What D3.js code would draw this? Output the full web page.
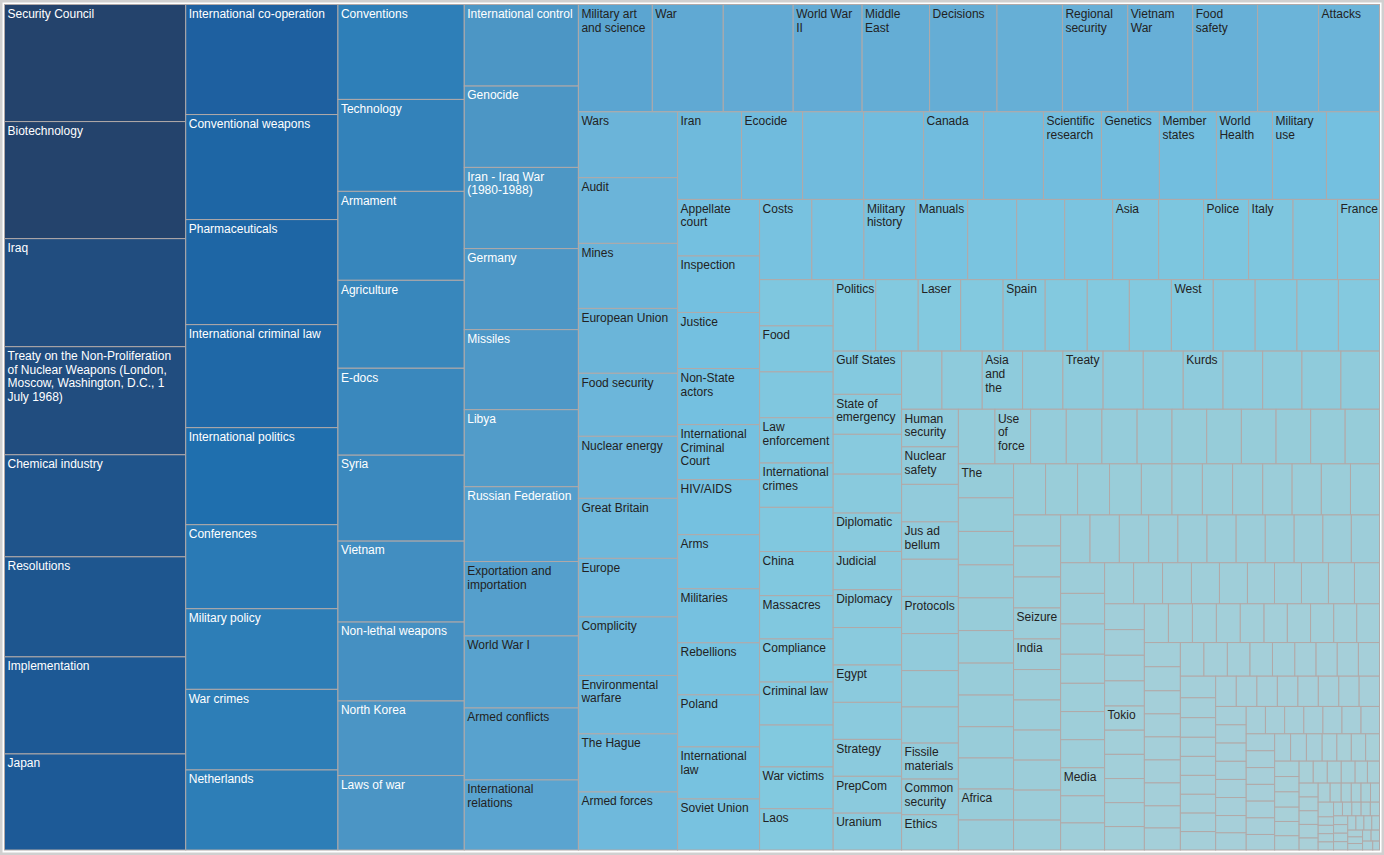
<!DOCTYPE html>
<html>
<head>
<meta charset="utf-8">
<script src="https://cdn.jsdelivr.net/npm/d3@7"></script>
<style>
html, body { margin: 0; padding: 0; background: #fff; }
svg { display: block; }
</style>
</head>
<body>
<svg id="chart" width="1384" height="855"></svg>
<script>
// Topic names (in treemap order, largest first). Empty string = cell whose label is not shown.
const topics = [
  "Security Council","Biotechnology","Iraq","Treaty on the Non-Proliferation of Nuclear Weapons (London, Moscow, Washington, D.C., 1 July 1968)","Chemical industry","Resolutions","Implementation","Japan",
  "International co-operation","Conventional weapons","Pharmaceuticals","International criminal law","International politics","Conferences","Military policy","War crimes","Netherlands",
  "Conventions","Technology","Armament","Agriculture","E-docs","Syria","Vietnam","Non-lethal weapons","North Korea","Laws of war",
  "International control","Genocide","Iran - Iraq War (1980-1988)","Germany","Missiles","Libya","Russian Federation","Exportation and importation","World War I","Armed conflicts","International relations",
  "Military art and science","War","","World War II","Middle East","Decisions","","Regional security","Vietnam War","Food safety","","Attacks",
  "Wars","Audit","Mines","European Union","Food security","Nuclear energy","Great Britain","Europe","Complicity","Environmental warfare","The Hague","Armed forces",
  "Iran","Ecocide","","","Canada","","Scientific research","Genetics","Member states","World Health","Military use","",
  "Appellate court","Inspection","Justice","Non-State actors","International Criminal Court","HIV/AIDS","Arms","Militaries","Rebellions","Poland","International law","Soviet Union",
  "Costs","","Military history","Manuals","","","","Asia","","Police","Italy","","France",
  "","Food","","Law enforcement","International crimes","","China","Massacres","Compliance","Criminal law","","War victims","Laos",
  "Politics","","Laser","","Spain","","","","West","","","","",
  "Gulf States","State of emergency","","","Diplomatic","Judicial","Diplomacy","","Egypt","","Strategy","PrepCom","Uranium",
  "","","Asia and the Pacific","","Treaty","","","Kurds","","","","",
  "Human security","Nuclear safety","","Jus ad bellum","","Protocols","","","","Fissile materials","Common security","Ethics",
  "","Use of force","","","","","","","","","","",
  "The","","","","","","","","","","Africa","",
  "","","","","","","","","","","","",
  "","","","Seizure","India","","","","","","",
  "","","","","","","","","","","",
  "","","","","","","","Media","","",
  "","","","","","","","","","",
  "","","","","Tokio"
];

// Document counts per topic (same order as topics; topics beyond the list above are unlabeled).
const counts = [
  21177,21177,19548,19548,18462,18100,17557,17376,
  16720,15960,15960,15656,14744,12768,12250,12250,12160,
  11970,11592,11214,11088,10962,10836,10206,9954,9400,9390,
  9290,9270,9250,9234,9120,8778,8520,8480,8208,8200,7980,
  7918,7597,7490,7383,7230,7220,7010,7000,6955,6950,6530,6527,
  6520,6500,6435,6420,6237,6138,5940,5800,5790,5780,5750,5742,
  5600,5340,5335,5250,5245,5240,5075,5070,4988,4900,4725,4638,
  4630,4625,4592,4590,4510,4505,4428,4425,4264,4262,4260,4182,
  4180,4170,4160,4150,3920,3845,3840,3680,3600,3600,3560,3560,3360,
  3400,3380,3370,3330,3256,3250,3240,3180,3170,3160,3080,3070,3034,
  3034,3034,3030,3030,3003,3003,3003,3000,2990,2990,2980,2960,2932,
  2950,2730,2720,2660,2620,2610,2584,2560,2550,2530,2520,2516,2516,
  2340,2340,2340,2340,2335,2330,2320,2310,2300,2280,2260,2240,
  2130,2128,2125,2120,2109,2105,2100,2060,2050,2040,2020,2000,
  1990,1944,1944,1940,1920,1900,1890,1890,1890,1885,1880,1870,
  1870,1850,1840,1815,1800,1790,1760,1740,1720,1710,1705,1650,
  1632,1632,1630,1625,1560,1550,1540,1535,1500,1490,1485,1479,
  1460,1457,1457,1455,1440,1430,1415,1412,1410,1410,1405,
  1405,1400,1398,1395,1392,1392,1390,1380,1370,1360,1344,
  1344,1340,1330,1276,1240,1235,1232,1230,1190,1188,
  1188,1186,1185,1148,1147,1107,1106,1105,1066,1025,
  1025,1020,1015,1000,960,960,960,958,950,930,
  930,928,926,924,920,900,897,895,890,880,
  870,864,830,828,828,826,825,795,792,
  790,788,760,755,750,714,712,710,708,
  760,700,690,672,668,665,662,650,648,
  625,622,620,620,618,618,616,615,
  560,558,556,554,552,550,527,525,
  525,524,523,522,521,520,504,
  480,478,476,475,474,472,440,
  435,432,430,400,395,390,378,
  376,375,374,350,349,348,
  310,308,306,304,270,264,
  264,262,260,258,228,
  228,210,192,185,180,171,
  225,130,128,126,124,122,
  128,127,126,125,124,
  122,120,118,116,
  114,112,110,
  100,98,96,
  94,92,
  90,60
];

const W = 1384, H = 855;
const svg = d3.select("#chart");

// outer frame
svg.append("rect")
  .attr("x", 1.25).attr("y", 1.25)
  .attr("width", W - 2.5).attr("height", H - 2.5)
  .attr("fill", "#fff").attr("stroke", "#d0d0d0").attr("stroke-width", 2.5);

const items = counts.map((c, i) => ({ name: topics[i] || "", value: c }));
const root = d3.hierarchy({ children: items }).sum(d => d.value || 0);
d3.treemap().tile(d3.treemapSquarify).size([1375, 845.5])(root);

const color = d3.scaleLinear()
  .domain([0, 800, 1800, 3000, 4600, 6500, 7500, 8000, 9300, 12000, 14700, 16700, 17400, 21200])
  .range(["#abd0d8", "#a4cfd9", "#97ccd9", "#83c9df", "#74c0e0", "#6bb4d9", "#62aad4", "#5aa4d0", "#4c96c5", "#2e7fb8", "#1f6fae", "#1e60a0", "#1d5a97", "#24436c"])
  .interpolate(d3.interpolateRgb)
  .clamp(true);

const whiteTextMin = 8500;

const ctx = document.createElement("canvas").getContext("2d");
ctx.font = '12px "Liberation Sans", Arial, sans-serif';
const FIRST = 13.3, LINE = 13.7, PAD = 3;

function wrapLines(text, w, h) {
  if (!text) return [];
  const wrapW = w - 7, wordW = w - 4;
  const words = text.split(" ");
  const lines = [];
  let cur = "";
  for (const wd of words) {
    const t = cur ? cur + " " + wd : wd;
    if (ctx.measureText(t).width <= wrapW) cur = t;
    else { if (cur) lines.push(cur); cur = wd; }
  }
  if (cur) lines.push(cur);
  const out = [];
  for (let i = 0; i < lines.length; i++) {
    if (ctx.measureText(lines[i]).width > wordW) break;
    if (FIRST + i * LINE + 6 > h) break;
    out.push(lines[i]);
  }
  return out;
}

const g = svg.append("g").attr("transform", "translate(4.5,4.5)");
const cells = g.selectAll("g.cell").data(root.leaves()).join("g")
  .attr("class", "cell")
  .attr("transform", d => `translate(${d.x0},${d.y0})`);

cells.append("rect")
  .attr("width", d => d.x1 - d.x0)
  .attr("height", d => d.y1 - d.y0)
  .attr("fill", d => color(d.value))
  .attr("stroke", "#b1a9a8")
  .attr("stroke-width", 1);

cells.each(function(d) {
  const w = d.x1 - d.x0, h = d.y1 - d.y0;
  const lines = wrapLines(d.data.name, w, h);
  if (!lines.length) return;
  const t = d3.select(this).append("text")
    .attr("font-family", '"Liberation Sans", Arial, sans-serif')
    .attr("font-size", 12)
    .attr("fill", d.value > whiteTextMin ? "#ffffff" : "#222222");
  lines.forEach((ln, i) => {
    t.append("tspan").attr("x", PAD).attr("y", FIRST + i * LINE).text(ln);
  });
});
</script>
</body>
</html>
